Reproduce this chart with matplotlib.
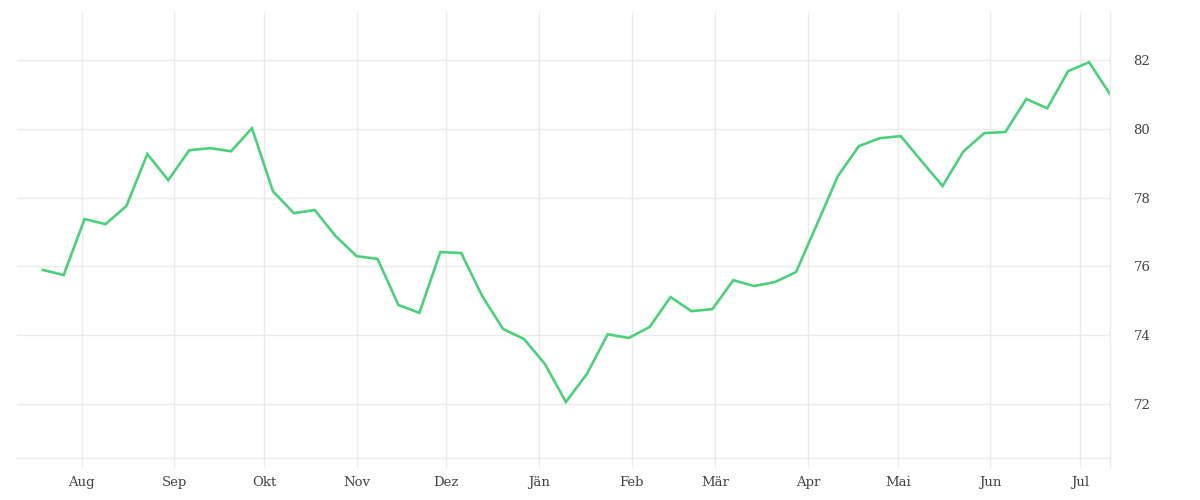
import pandas as pd
import matplotlib
matplotlib.use('Agg')
import matplotlib.pyplot as plt
import matplotlib.dates as mdates

# weekly values, starting mid July
start_date = '2021-07-19'
values = [75.90, 75.75, 77.38, 77.23, 77.76, 79.27, 78.51, 79.38, 79.44, 79.35,
          80.02, 78.19, 77.55, 77.64, 76.88, 76.30, 76.22, 74.88, 74.65, 76.42,
          76.39, 75.14, 74.18, 73.89, 73.16, 72.06, 72.87, 74.03, 73.92, 74.24,
          75.11, 74.70, 74.76, 75.60, 75.43, 75.55, 75.84, 77.23, 78.63, 79.50,
          79.73, 79.79, 79.06, 78.34, 79.35, 79.88, 79.91, 80.87, 80.60, 81.68,
          81.94, 81.01]
month_labels = ['Aug', 'Sep', 'Okt', 'Nov', 'Dez', 'Jän', 'Feb', 'Mär', 'Apr',
                'Mai', 'Jun', 'Jul']
y_ticks = [72, 74, 76, 78, 80, 82]

dates = pd.date_range(start_date, periods=len(values), freq='7D')
month_starts = pd.date_range('2021-08-01', periods=len(month_labels), freq='MS')

grid_color = '#ebebeb'
text_color = '#444444'

plt.rcParams['font.family'] = ['DejaVu Serif']

fig = plt.figure(figsize=(12, 5), dpi=100)
ax = fig.add_axes([17 / 1200, 1 - 458 / 500, (1110 - 17) / 1200, (458 - 12) / 500])

ax.plot(dates, values, color='#4cd17a', linewidth=1.9, solid_joinstyle='miter')

ax.set_xlim(dates[0] - pd.Timedelta(days=8.6), dates[-1])
ax.set_ylim(70.43, 83.4)

ax.set_xticks(month_starts)
ax.set_xticklabels(month_labels)
ax.set_xticks([dates[-1]], minor=True)
ax.set_yticks(y_ticks)
ax.yaxis.tick_right()

ax.grid(True, color=grid_color, linewidth=1)
ax.tick_params(axis='x', which='both', length=7.2, width=1, color=grid_color,
               labelsize=9.5, labelcolor=text_color, pad=6)
ax.tick_params(axis='y', length=0, labelsize=9.5, labelcolor=text_color, pad=17)

for side in ['top', 'left']:
    ax.spines[side].set_visible(False)
for side in ['bottom', 'right']:
    ax.spines[side].set_color(grid_color)
    ax.spines[side].set_linewidth(1)

fig.savefig('out.png', dpi=100)
